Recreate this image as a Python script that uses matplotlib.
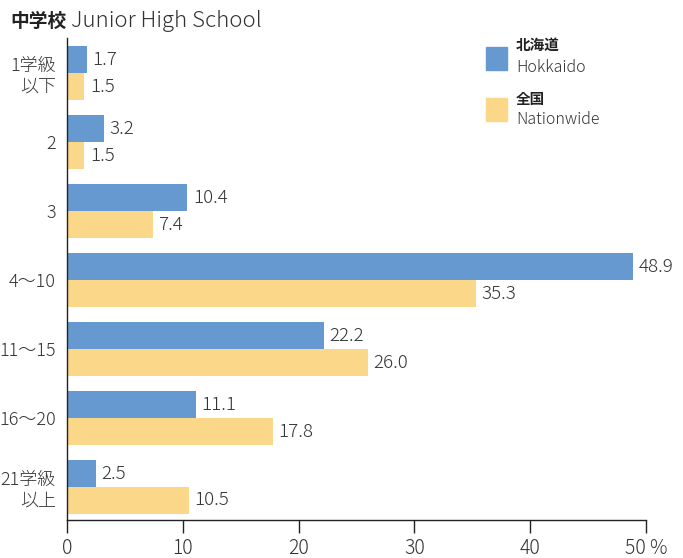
import matplotlib.pyplot as plt
from matplotlib.patches import Rectangle
import numpy as np

plt.rcParams['font.family'] = ['Noto Sans CJK JP', 'DejaVu Sans']
plt.rcParams['font.weight'] = 'light'

categories = ['1学級\n以下', '2', '3', '4～10', '11～15', '16～20', '21学級\n以上']
hokkaido = [1.7, 3.2, 10.4, 48.9, 22.2, 11.1, 2.5]
nationwide = [1.5, 1.5, 7.4, 35.3, 26.0, 17.8, 10.5]
xticks = [0, 10, 20, 30, 40, 50]
xticklabels = ['0', '10', '20', '30', '40', '50 %']

blue = '#6699d0'
yellow = '#fbd78a'
txt = '#333333'

fig = plt.figure(figsize=(6.83, 5.58), dpi=100)
ax = fig.add_axes([67/683, 1 - 520/558, (646 - 67)/683, (520 - 38)/558])

y = np.arange(len(categories))
h = 0.39
ax.barh(y - h/2, hokkaido, height=h, color=blue)
ax.barh(y + h/2, nationwide, height=h, color=yellow)

for i in range(len(categories)):
    ax.annotate(f'{hokkaido[i]:.1f}', (hokkaido[i], y[i] - h/2), xytext=(4, 0),
                textcoords='offset points', va='center', ha='left', fontsize=13.5, color=txt)
    ax.annotate(f'{nationwide[i]:.1f}', (nationwide[i], y[i] + h/2), xytext=(4, 0),
                textcoords='offset points', va='center', ha='left', fontsize=13.5, color=txt)

ax.set_xlim(0, 50)
ax.set_ylim(len(categories) - 1 + 0.478, -0.51)
ax.set_yticks(y)
ax.set_yticklabels(categories, fontsize=13, color=txt, linespacing=1.2)
ax.tick_params(axis='y', length=0, pad=8)
ax.set_xticks(xticks)
ax.set_xticklabels(xticklabels, fontsize=14, color=txt)
ax.tick_params(axis='x', direction='out', length=9, width=1, pad=4, colors='#222222')
for lbl in ax.get_xticklabels():
    lbl.set_color(txt)

for s in ['top', 'right']:
    ax.spines[s].set_visible(False)
for s in ['left', 'bottom']:
    ax.spines[s].set_color('#222222')
    ax.spines[s].set_linewidth(1)

# title
fig.text(10/683, 1 - 21/558, '中学校', fontsize=13.5, fontweight='bold', color='#222222',
         ha='left', va='center')
fig.text(71/683, 1 - 21/558, 'Junior High School', fontsize=16, color=txt,
         ha='left', va='center')

# legend
fig.add_artist(Rectangle((486/683, 1 - 70/558), 21/683, 23/558, color=blue,
                         transform=fig.transFigure))
fig.add_artist(Rectangle((486/683, 1 - 121/558), 21/683, 23/558, color=yellow,
                         transform=fig.transFigure))
fig.text(516/683, 1 - 45/558, '北海道', fontsize=10.5, fontweight='bold', color='#222222',
         ha='left', va='center')
fig.text(516/683, 1 - 67/558, 'Hokkaido', fontsize=11.5, color=txt, ha='left', va='center')
fig.text(516/683, 1 - 99/558, '全国', fontsize=10.5, fontweight='bold', color='#222222',
         ha='left', va='center')
fig.text(516/683, 1 - 120/558, 'Nationwide', fontsize=11.5, color=txt, ha='left', va='center')

fig.savefig('out.png', dpi=100, facecolor='white')
